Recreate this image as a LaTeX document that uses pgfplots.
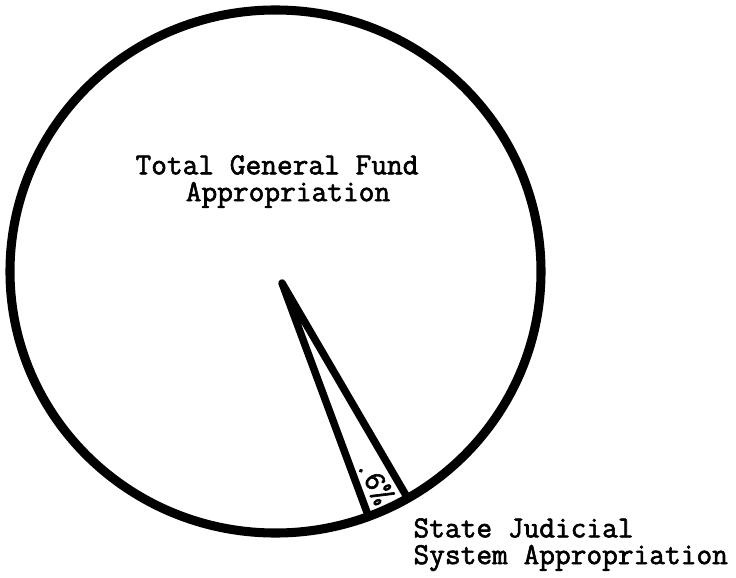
\documentclass[border=0pt]{standalone}
\usepackage{pgfplots}
\pgfplotsset{compat=1.18}
\usepackage{fontspec}
\newfontfamily\tw[FakeBold=2]{Latin Modern Mono}
\begin{document}
\begin{tikzpicture}
\begin{axis}[
  scale only axis, width=10cm, height=7.84cm,
  xmin=0, xmax=736, ymin=0, ymax=577,
  hide axis, clip=false,
]
% invisible frame to fix the picture size
\addplot[draw=none, forget plot] coordinates {(0,0) (736,577)};
% pie outline
\draw[line width=3.5pt] (axis cs:275.5,305.5) ellipse [x radius=265.5, y radius=261.5];
% State Judicial System slice (0.6%)
\addplot[line width=2.9pt, line cap=round, line join=round, mark=none]
  coordinates {(368,62) (282,294) (407,80)};
\node[font=\tw\fontsize{11.8}{14}\selectfont] at (axis cs:277,412) {Total General Fund};
\node[font=\tw\fontsize{11.8}{14}\selectfont] at (axis cs:288,382) {Appropriation};
\node[font=\tw\fontsize{11.8}{14}\selectfont, anchor=west, inner sep=0pt] at (axis cs:413,49) {State Judicial};
\node[font=\tw\fontsize{11.8}{14}\selectfont, anchor=west, inner sep=0pt] at (axis cs:413,19) {System Appropriation};
\node[font=\tw\fontsize{11.8}{14}\selectfont, rotate=-62, inner sep=0pt] at (axis cs:375,96) {.6\%};
\end{axis}
\end{tikzpicture}
\end{document}
